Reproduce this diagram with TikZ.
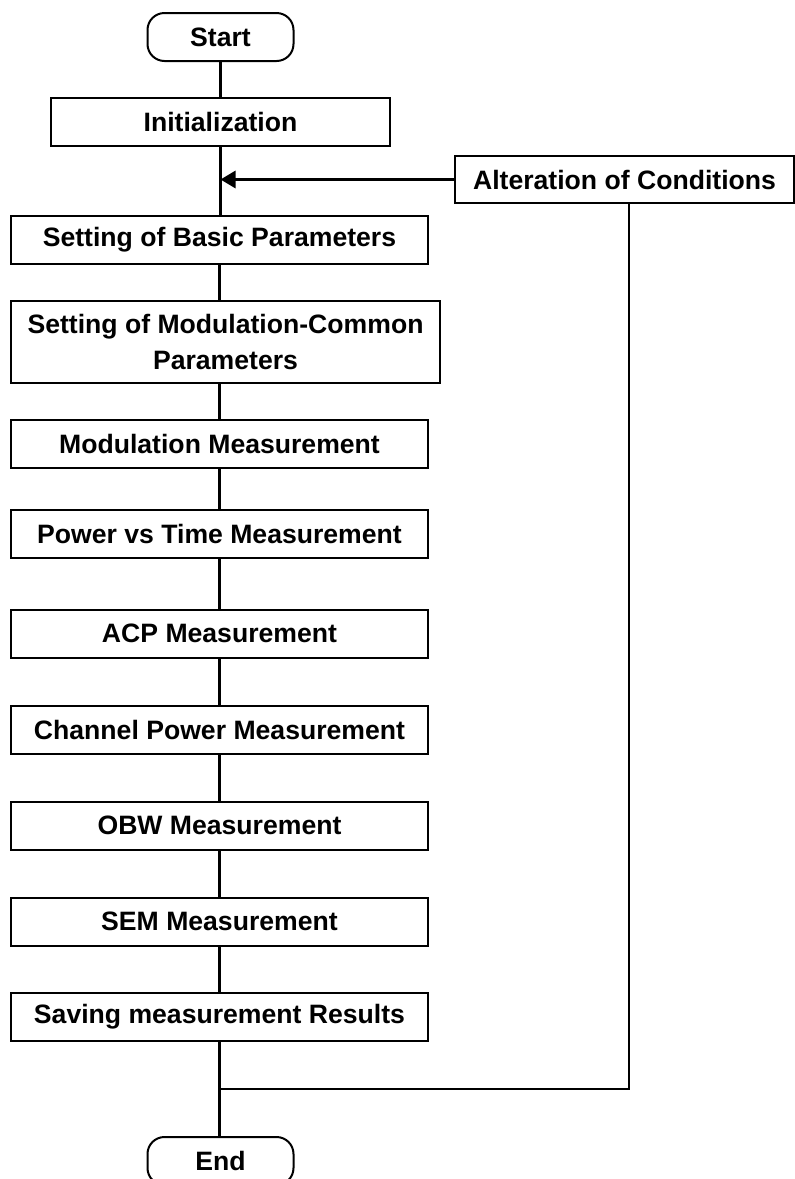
\documentclass[tikz,border=0pt]{standalone}
\usepackage{fontspec}
\setmainfont{Liberation Sans}
\usetikzlibrary{arrows.meta}
\begin{document}
\begin{tikzpicture}[x=1pt,y=-1pt,
  every node/.style={font=\bfseries\fontsize{26.6}{36}\selectfont, inner sep=0pt, align=center},
  procbox/.style={draw, line width=2pt, minimum height=48pt},
  wide/.style={procbox, minimum width=417pt},
  term/.style={draw, line width=2pt, rounded corners=17pt, minimum width=146pt, minimum height=48pt},
  conn/.style={line width=2.1pt},
  arr/.style={line width=2.9pt, -{Triangle[length=15pt,width=17pt]}}]
\useasboundingbox (0,0) rectangle (795,1179);
\node[term] (start) at (220.5,37) {Start};
\node[procbox, minimum width=339pt] (init) at (220.5,122) {Initialization};
\node[procbox, minimum width=339pt, minimum height=47pt] (alt) at (624.5,179.5) {Alteration of Conditions};
\node[wide] (basic) at (219.5,240) {Setting of Basic Parameters};
\node[procbox, minimum width=429pt, minimum height=82pt] (mc) at (225.5,342) {Setting of Modulation-Common\\Parameters};
\node[wide] (mm) at (219.5,443.5) {Modulation Measurement};
\node[wide] (pvt) at (219.5,533.5) {Power vs Time Measurement};
\node[wide] (acp) at (219.5,633.5) {ACP Measurement};
\node[wide] (ch) at (219.5,729.5) {Channel Power Measurement};
\node[wide] (obw) at (219.5,825.5) {OBW Measurement};
\node[wide] (sem) at (219.5,921.5) {SEM Measurement};
\node[wide] (save) at (219.5,1017) {Saving measurement Results};
\node[term] (end) at (220.5,1161) {End};
\coordinate (join) at (220.5,1089);
\coordinate (merge) at (220.5,179.5);
\draw[conn] (start.south) -- (init.north);
\draw[conn] (init.south) -- (init.south |- basic.north);
\draw[arr] (alt.west) -- (merge);
\draw[conn] (basic.south) -- (basic.south |- mc.north);
\draw[conn] (basic.south |- mc.south) -- (mm.north);
\draw[conn] (mm.south) -- (pvt.north);
\draw[conn] (pvt.south) -- (acp.north);
\draw[conn] (acp.south) -- (ch.north);
\draw[conn] (ch.south) -- (obw.north);
\draw[conn] (obw.south) -- (sem.north);
\draw[conn] (sem.south) -- (save.north);
\draw[conn] (save.south) -- (save.south |- end.north);
\draw[conn] ([xshift=4.5pt]alt.south) |- (join);
\end{tikzpicture}
\end{document}
